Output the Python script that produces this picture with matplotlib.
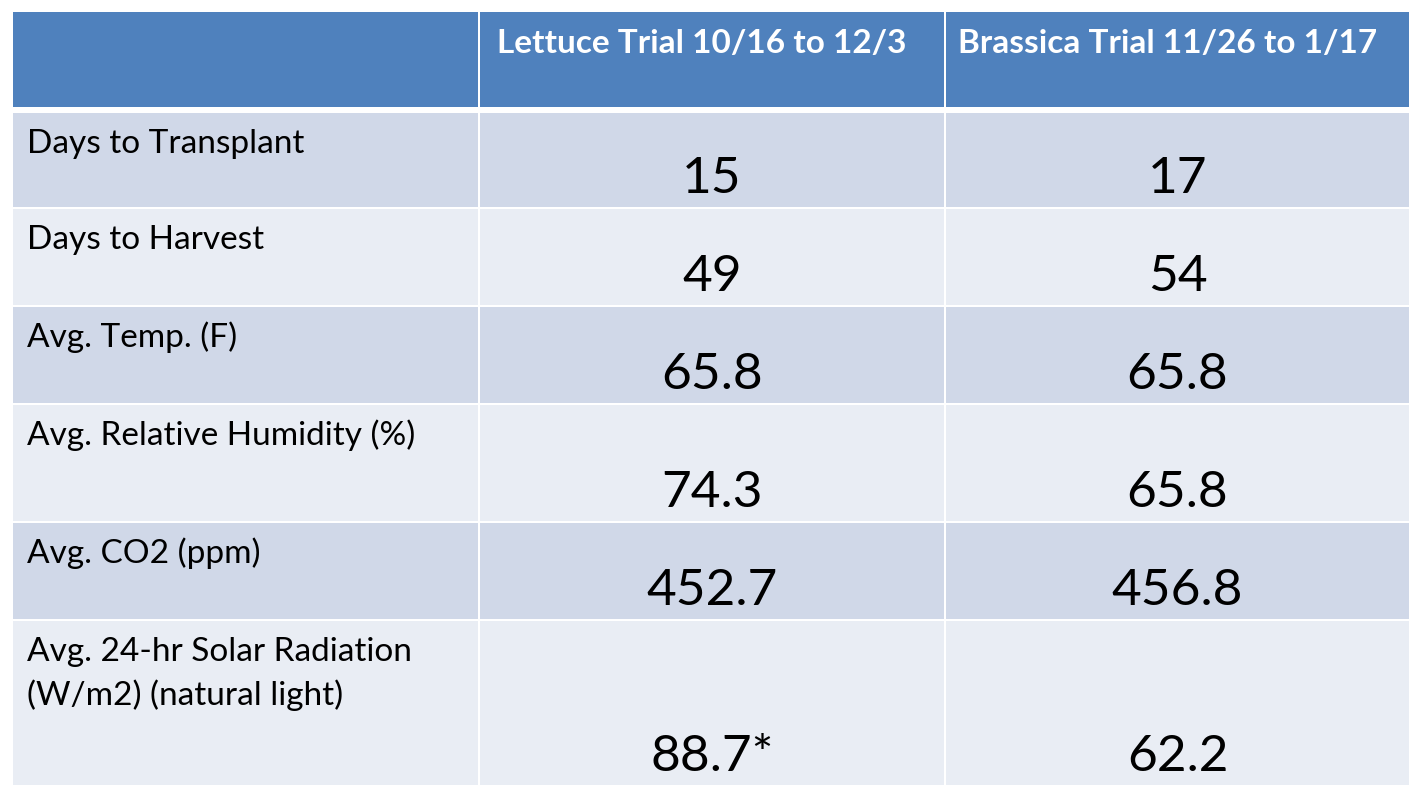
import matplotlib
matplotlib.use("Agg")
import matplotlib.pyplot as plt
from matplotlib.patches import Rectangle

# table contents
headers = ["", "Lettuce Trial 10/16 to 12/3", "Brassica Trial 11/26 to 1/17"]
row_labels = [
    "Days to Transplant",
    "Days to Harvest",
    "Avg. Temp. (F)",
    "Avg. Relative Humidity (%)",
    "Avg. CO2 (ppm)",
    "Avg. 24-hr Solar Radiation\n(W/m2) (natural light)",
]
lettuce = ["15", "49", "65.8", "74.3", "452.7", "88.7*"]
brassica = ["17", "54", "65.8", "65.8", "456.8", "62.2"]

# colours
header_color = "#4F81BD"
band_dark = "#D0D8E8"
band_light = "#E9EDF4"

plt.rcParams["font.family"] = ["Lato", "DejaVu Sans"]

fig = plt.figure(figsize=(14.24, 7.98), dpi=100)
ax = fig.add_axes([0, 0, 1, 1])
ax.set_xlim(0, 1424)
ax.set_ylim(798, 0)
ax.axis("off")

# column edges and row edges in pixels
col_edges = [(13, 478), (480, 944), (946, 1409)]
header_span = (12, 107)
row_spans = [(113, 207), (209, 305), (307, 403), (405, 521), (523, 619), (621, 785)]

# header row
for (x0, x1), text in zip(col_edges, headers):
    ax.add_patch(Rectangle((x0, header_span[0]), x1 - x0, header_span[1] - header_span[0],
                           facecolor=header_color, edgecolor="none"))
    if text:
        ax.text((x0 + x1) / 2 - 10, 53, text, ha="center", va="baseline",
                fontsize=24, fontweight="bold", color="white")

# body rows
for i, (y0, y1) in enumerate(row_spans):
    fill = band_dark if i % 2 == 0 else band_light
    for x0, x1 in col_edges:
        ax.add_patch(Rectangle((x0, y0), x1 - x0, y1 - y0, facecolor=fill, edgecolor="none"))
    lines = row_labels[i].split("\n")
    for k, line in enumerate(lines):
        ax.text(27, y0 + 40 + 44 * k, line, ha="left", va="baseline",
                fontsize=24, color="black")
    for (x0, x1), vals in zip(col_edges[1:], [lettuce, brassica]):
        ax.text((x0 + x1) / 2, y1 - 14, vals[i], ha="center", va="baseline",
                fontsize=37, color="black")

fig.savefig("out.png", dpi=100)
